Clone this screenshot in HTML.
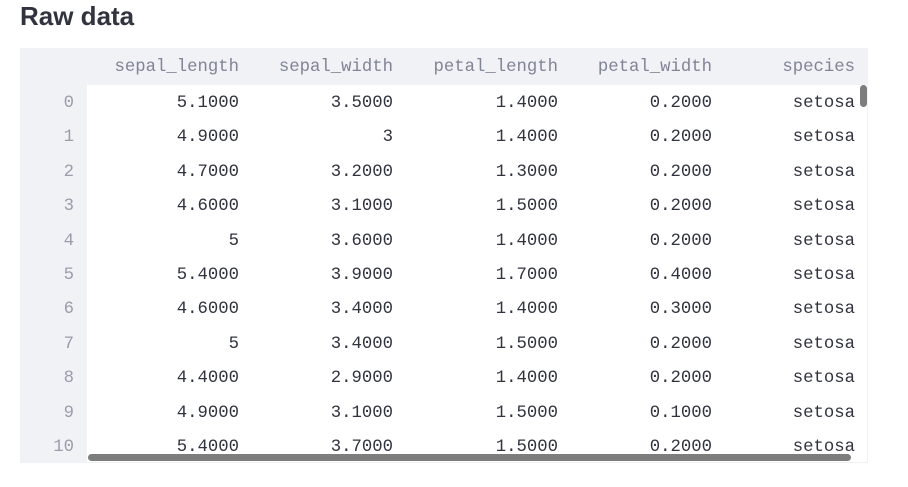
<!DOCTYPE html>
<html><head><meta charset="utf-8"><style>
body{margin:0;width:908px;height:487px;background:#fff;overflow:hidden;position:relative;font-family:"Liberation Sans",sans-serif}
h1{position:absolute;left:20px;top:1px;margin:0;font-size:26px;font-weight:600;color:#31333f;letter-spacing:0px}
#tbl{position:absolute;left:20px;top:48px;width:848px;height:415px;overflow:hidden;border:1px solid #f0f1f4;box-sizing:border-box;font-family:"Liberation Mono",monospace;font-size:17.3px}
.hdr{position:absolute;left:0;top:0;width:848px;height:36px;background:#f0f2f6}
.idx{position:absolute;left:0;top:0;width:66px;height:415px;background:#f0f2f6}
.c{position:absolute;text-align:right;white-space:nowrap;line-height:20px}
.h{color:#808495}.v{color:#31333f}.i{color:#9a9daa}
.vs{position:absolute;left:839px;top:36px;width:7px;height:22px;border-radius:4px;background:#7d7d7d}
.hs{position:absolute;left:67px;top:405px;width:763px;height:7px;border-radius:4px;background:#7d7d7d}
</style></head><body>
<h1>Raw data</h1>
<div id="tbl">
<div class="hdr"></div>
<div class="idx"></div>
<div class="vs"></div>
<div class="hs"></div>
</div>
<script>
const columns=["sepal_length","sepal_width","petal_length","petal_width","species"];
const sepalLength=["5.1000","4.9000","4.7000","4.6000","5","5.4000","4.6000","5","4.4000","4.9000","5.4000"];
const sepalWidth=["3.5000","3","3.2000","3.1000","3.6000","3.9000","3.4000","3.4000","2.9000","3.1000","3.7000"];
const petalLength=["1.4000","1.4000","1.3000","1.5000","1.4000","1.7000","1.4000","1.5000","1.4000","1.5000","1.5000"];
const petalWidth=["0.2000","0.2000","0.2000","0.2000","0.2000","0.4000","0.3000","0.2000","0.2000","0.1000","0.2000"];
const species=Array(11).fill("setosa");
const t=document.getElementById('tbl');
const rights=[220,374,539,693,836];
const cols=[sepalLength,sepalWidth,petalLength,petalWidth,species];
function cell(txt,right,top,cls,name){
 const d=document.createElement('div');d.className='c '+cls;d.textContent=txt;
 d.style.right=(848-right)+'px';d.style.top=top+'px';
 
 
 t.insertBefore(d,t.querySelector('.vs'));
}
columns.forEach((c,j)=>cell(c,rights[j],9,'h','column-header'));
for(let i=0;i<11;i++){
 const top=36+i*34.4+9;
 cell(String(i),55,top,'i','row-index');
 cols.forEach((a,j)=>cell(a[i],rights[j],top,'v','table-cell'));
}
</script>
</body></html>
